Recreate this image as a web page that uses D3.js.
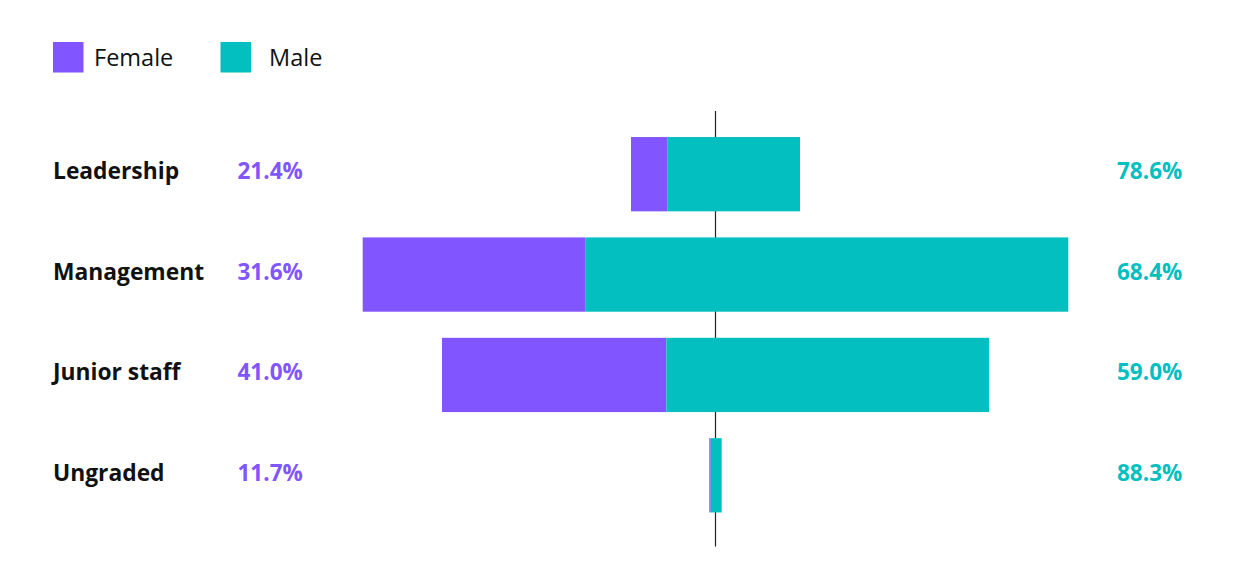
<!DOCTYPE html>
<html>
<head>
<meta charset="utf-8">
<script src="https://cdn.jsdelivr.net/npm/d3@7"></script>
<style>
  html, body { margin: 0; padding: 0; background: #fff; }
  svg { display: block; }
</style>
</head>
<body>
<svg id="chart" width="1236" height="561"></svg>
<script>
const categories = ["Leadership", "Management", "Junior staff", "Ungraded"];
const femaleValues = [36.2, 223.0, 224.3, 1.45];
const maleValues = [132.8, 482.6, 322.7, 10.95];
const femaleLabels = ["21.4%", "31.6%", "41.0%", "11.7%"];
const maleLabels = ["78.6%", "68.4%", "59.0%", "88.3%"];
const seriesNames = ["Female", "Male"];

const colors = { Female: "#8155ff", Male: "#03bfbf" };
const font = "'Open Sans', sans-serif";

const svg = d3.select("#chart");

const rows = categories.map((c, i) => {
  const total = femaleValues[i] + maleValues[i];
  return { cat: c, f: femaleValues[i], m: maleValues[i], total, fl: femaleLabels[i], ml: maleLabels[i] };
});

const maxHalf = d3.max(rows, d => d.total / 2);
const x = d3.scaleLinear().domain([-maxHalf, maxHalf]).range([362.7, 1068.3]);
const y = d3.scaleBand().domain(categories).range([124, 525.5]).paddingInner(0.26).paddingOuter(0.13);
// label rows (slightly different grid than the bars, as in the reference)
const yLabel = d3.scaleBand().domain(categories).range([120.5, 533]).paddingInner(0).paddingOuter(0.1);

// center line (behind bars)
svg.append("line")
  .attr("x1", x(0)).attr("x2", x(0))
  .attr("y1", 111).attr("y2", 546.5)
  .attr("stroke", "#222").attr("stroke-width", 1.2);

const g = svg.append("g");
g.selectAll("rect.f").data(rows).join("rect")
  .attr("class", "f")
  .attr("x", d => x(-d.total / 2))
  .attr("width", d => x(-d.total / 2 + d.f) - x(-d.total / 2))
  .attr("y", d => y(d.cat))
  .attr("height", y.bandwidth())
  .attr("fill", colors.Female);
g.selectAll("rect.m").data(rows).join("rect")
  .attr("class", "m")
  .attr("x", d => x(-d.total / 2 + d.f))
  .attr("width", d => x(d.total / 2) - x(-d.total / 2 + d.f))
  .attr("y", d => y(d.cat))
  .attr("height", y.bandwidth())
  .attr("fill", colors.Male);

const labelY = d => y(d.cat) + y.bandwidth() / 2 + 5.3;

svg.selectAll("text.cat").data(rows).join("text")
  .attr("class", "cat")
  .attr("x", 53)
  .attr("y", labelY)
  .attr("font-family", font).attr("font-weight", 700).attr("font-size", 22.8)
  .attr("fill", "#111")
  .text(d => d.cat);

svg.selectAll("text.fl").data(rows).join("text")
  .attr("class", "fl")
  .attr("x", 237.5)
  .attr("y", labelY)
  .attr("font-family", font).attr("font-weight", 700).attr("font-size", 22.5)
  .attr("fill", colors.Female)
  .text(d => d.fl);

svg.selectAll("text.ml").data(rows).join("text")
  .attr("class", "ml")
  .attr("x", 1117)
  .attr("y", labelY)
  .attr("font-family", font).attr("font-weight", 700).attr("font-size", 22.5)
  .attr("fill", colors.Male)
  .text(d => d.ml);

// legend
const legendX = [53, 220.5];
const leg = svg.selectAll("g.leg").data(seriesNames).join("g")
  .attr("class", "leg")
  .attr("transform", (d, i) => `translate(${legendX[i]},42)`);
leg.append("rect").attr("width", 30.5).attr("height", 30.5).attr("fill", d => colors[d]);
leg.append("text")
  .attr("x", (d, i) => i === 0 ? 41 : 48.5)
  .attr("y", 24)
  .attr("font-family", font).attr("font-size", 23.5)
  .attr("fill", "#111")
  .text(d => d);
</script>
</body>
</html>
